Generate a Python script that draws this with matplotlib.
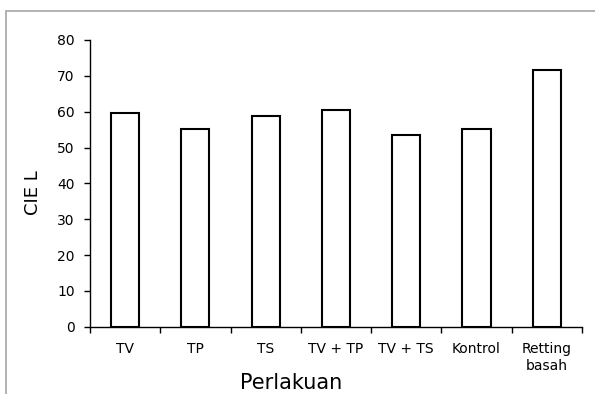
import matplotlib
matplotlib.use("Agg")
from matplotlib import pyplot as plt
from matplotlib.patches import Rectangle

categories = ["TV", "TP", "TS", "TV + TP", "TV + TS", "Kontrol", "Retting\nbasah"]
cie_l = [59.6, 55.1, 58.7, 60.4, 53.4, 55.3, 71.6]
yticks = [0, 10, 20, 30, 40, 50, 60, 70, 80]

fig = plt.figure(figsize=(5.95, 3.94), dpi=100)
ax = fig.add_axes([0.1513, 0.1708, 0.8267, 0.7277])

x = list(range(len(categories)))
ax.bar(x, cie_l, width=0.4, color="white", edgecolor="black", linewidth=1.5, zorder=3)

ax.set_xlim(-0.5, len(categories) - 0.5)
ax.set_ylim(0, 80)
ax.set_yticks(yticks)
ax.set_xticks(x)
ax.set_xticklabels(categories, fontsize=10, linespacing=1.25)
ax.set_xticks([i - 0.5 for i in range(len(categories) + 1)], minor=True)
ax.tick_params(axis="x", which="major", length=0, pad=11)
ax.tick_params(axis="x", which="minor", length=4, width=1, direction="out")
ax.tick_params(axis="y", length=4, width=1, direction="out", pad=7, labelsize=10)

for s in ["top", "right"]:
    ax.spines[s].set_visible(False)
for s in ["left", "bottom"]:
    ax.spines[s].set_linewidth(1)

fig.text(0.0563, 0.51, "CIE L", rotation=90, ha="center", va="center", fontsize=13)
fig.text(0.489, 0.012, "Perlakuan", ha="center", va="baseline", fontsize=15)

fig.patches.append(Rectangle((0.0101, -0.1), 1.5, 0.972 + 0.1, transform=fig.transFigure,
                             fill=False, edgecolor="#a6a6a6", linewidth=1.2))

plt.savefig("out.png", dpi=100)
